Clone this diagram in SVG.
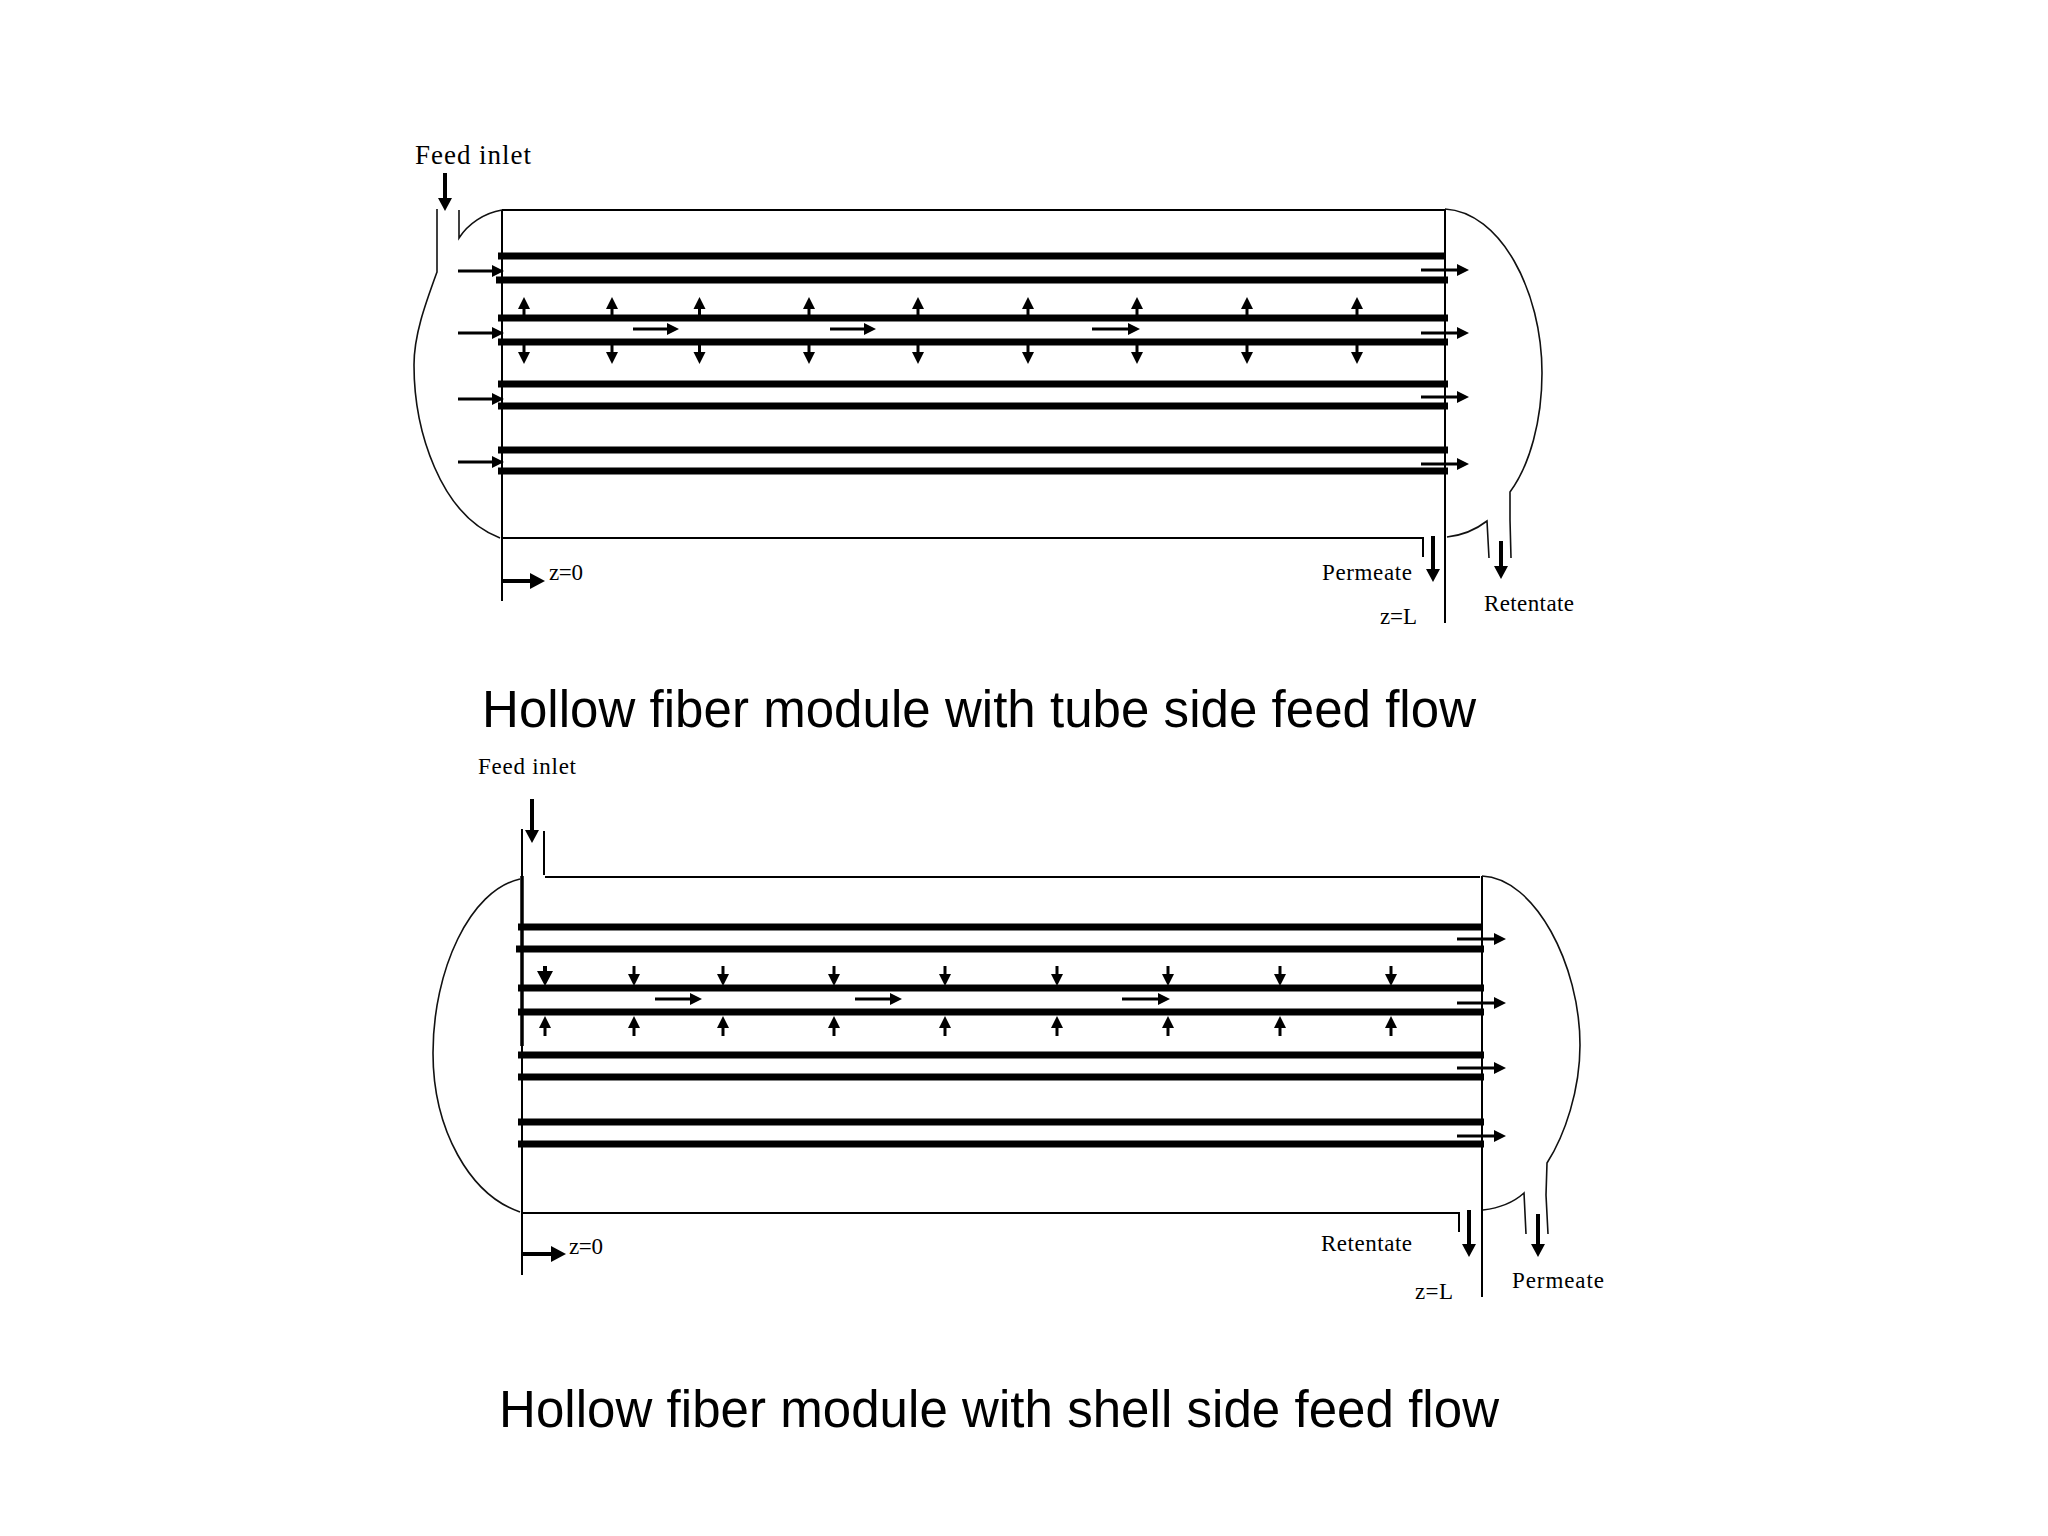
<svg xmlns="http://www.w3.org/2000/svg" width="2048" height="1536" viewBox="0 0 2048 1536">
<style>
.thin{fill:none;stroke:#111;stroke-width:1.600}
.wall{fill:none;stroke:#000;stroke-width:2}
.tube{stroke:#000;stroke-width:7;fill:none}
.a{stroke:#000;stroke-width:3;fill:none;marker-end:url(#h)}
.b{stroke:#000;stroke-width:4;fill:none;marker-end:url(#hb)}
.z{stroke:#000;stroke-width:4;fill:none;marker-end:url(#hz)}
.l{font-family:"Liberation Serif","Times New Roman",serif;fill:#000}
.cap{font-family:"Liberation Sans",Arial,sans-serif;font-size:51px;fill:#000}
</style>
<defs>
<marker id="h" markerUnits="userSpaceOnUse" markerWidth="13" markerHeight="14" refX="2" refY="7" orient="auto"><path d="M0 1L12 7L0 13Z" fill="#000"/></marker>
<marker id="hb" markerUnits="userSpaceOnUse" markerWidth="16" markerHeight="16" refX="2" refY="8" orient="auto"><path d="M0 1L13 8L0 15Z" fill="#000"/></marker>
<marker id="hz" markerUnits="userSpaceOnUse" markerWidth="18" markerHeight="18" refX="2" refY="9" orient="auto"><path d="M0 1L15 9L0 17Z" fill="#000"/></marker>
</defs>
<rect width="2048" height="1536" fill="#fff"/>

<g id="module-tube-feed">
<g id="shell-1">
<path class="wall" d="M502 210H1445M502 210V601M502 538H1423V557M1445 209V623"/>
<path class="thin" d="M437 209V272C425 305 414 335 414 365C414 430 440 515 500 538"/>
<path class="thin" d="M459 210V238C468 224 484 213 502 210"/>
<path class="thin" d="M1445 209C1500 212 1542 290 1542 373C1542 420 1530 465 1510 492V520L1511 558"/>
<path class="thin" d="M1447 537C1465 535 1478 528 1487 521L1489 558"/>
</g>
<g id="tubes-1">
<path class="tube" d="M498 256H1446M496 280H1448M498 318H1448M498 342H1448M498 384H1448M498 406H1448M498 450H1448M498 471H1448"/>
</g>
<text class="l" x="415" y="164" font-size="27" textLength="116" lengthAdjust="spacing">Feed inlet</text>
<text class="l" x="549" y="580" font-size="23" textLength="34" lengthAdjust="spacing">z=0</text>
<text class="l" x="1322" y="580" font-size="23" textLength="90" lengthAdjust="spacing">Permeate</text>
<text class="l" x="1380" y="624" font-size="23" textLength="37" lengthAdjust="spacing">z=L</text>
<text class="l" x="1484" y="611" font-size="23" textLength="90" lengthAdjust="spacing">Retentate</text>
</g>
<g id="connectors-1">
<path class="a" d="M458 271H494"/><path class="a" d="M458 333H494"/><path class="a" d="M458 399H494"/><path class="a" d="M458 462H494"/>
<path class="a" d="M633 329H669"/><path class="a" d="M830 329H866"/><path class="a" d="M1092 329H1130"/>
<path class="a" d="M1421 270H1459"/><path class="a" d="M1421 333H1459"/><path class="a" d="M1421 397H1459"/><path class="a" d="M1421 464H1459"/>
<path class="a" d="M524 315V307"/><path class="a" d="M612 315V307"/><path class="a" d="M699.500 315V307"/><path class="a" d="M809 315V307"/><path class="a" d="M918 315V307"/><path class="a" d="M1028 315V307"/><path class="a" d="M1137 315V307"/><path class="a" d="M1247 315V307"/><path class="a" d="M1357 315V307"/>
<path class="a" d="M524 345V354"/><path class="a" d="M612 345V354"/><path class="a" d="M699.500 345V354"/><path class="a" d="M809 345V354"/><path class="a" d="M918 345V354"/><path class="a" d="M1028 345V354"/><path class="a" d="M1137 345V354"/><path class="a" d="M1247 345V354"/><path class="a" d="M1357 345V354"/>
<path class="b" d="M445 173V200"/>
<path class="b" d="M1433 536V571"/>
<path class="b" d="M1501 541V568"/>
<path class="z" d="M503 581H532"/>
</g>
<text id="caption-1" class="cap" x="482" y="727" textLength="994" lengthAdjust="spacing">Hollow fiber module with tube side feed flow</text>

<g id="module-shell-feed">
<g id="shell-2">
<path class="wall" d="M545 877H1480M522 1213H1459V1232M1482 876V1297M544 831V875"/>
<path class="wall" d="M522 829V1275"/>
<path d="M522 876V1046" stroke="#000" stroke-width="3.500" fill="none"/>
<path class="thin" d="M520 879C470 890 433 970 433 1053C433 1130 470 1195 520 1212"/>
<path class="thin" d="M1482 876C1535 878 1580 965 1580 1045C1580 1090 1565 1135 1547 1163L1546 1195L1548 1234"/>
<path class="thin" d="M1483 1210C1500 1208 1514 1202 1524 1193L1526 1234"/>
</g>
<g id="tubes-2">
<path class="tube" d="M518 927H1482M516 949H1484M518 988H1484M518 1012H1484M518 1055H1484M518 1077H1484M518 1122H1484M518 1144H1484"/>
</g>
<text class="l" x="478" y="774" font-size="23" textLength="98" lengthAdjust="spacing">Feed inlet</text>
<text class="l" x="569" y="1254" font-size="23" textLength="34" lengthAdjust="spacing">z=0</text>
<text class="l" x="1321" y="1251" font-size="23" textLength="91" lengthAdjust="spacing">Retentate</text>
<text class="l" x="1415" y="1299" font-size="23" textLength="38" lengthAdjust="spacing">z=L</text>
<text class="l" x="1512" y="1288" font-size="23" textLength="92" lengthAdjust="spacing">Permeate</text>
</g>
<g id="connectors-2">
<path class="a" d="M655 999H692"/><path class="a" d="M855 999H892"/><path class="a" d="M1122 999H1160"/>
<path class="a" d="M1457 939H1496"/><path class="a" d="M1457 1003H1496"/><path class="a" d="M1457 1068H1496"/><path class="a" d="M1457 1136H1496"/>
<path class="z" d="M545 966V973"/><path class="a" d="M634 966V976"/><path class="a" d="M723 966V976"/><path class="a" d="M834 966V976"/><path class="a" d="M945 966V976"/><path class="a" d="M1057 966V976"/><path class="a" d="M1168 966V976"/><path class="a" d="M1280 966V976"/><path class="a" d="M1391 966V976"/>
<path class="a" d="M545 1036V1026"/><path class="a" d="M634 1036V1026"/><path class="a" d="M723 1036V1026"/><path class="a" d="M834 1036V1026"/><path class="a" d="M945 1036V1026"/><path class="a" d="M1057 1036V1026"/><path class="a" d="M1168 1036V1026"/><path class="a" d="M1280 1036V1026"/><path class="a" d="M1391 1036V1026"/>
<path class="b" d="M532 799V832"/>
<path class="b" d="M1469 1210V1246"/>
<path class="b" d="M1538 1214V1246"/>
<path class="z" d="M523 1254H553"/>
</g>
<text id="caption-2" class="cap" x="499" y="1427" textLength="1000" lengthAdjust="spacing">Hollow fiber module with shell side feed flow</text>
</svg>
